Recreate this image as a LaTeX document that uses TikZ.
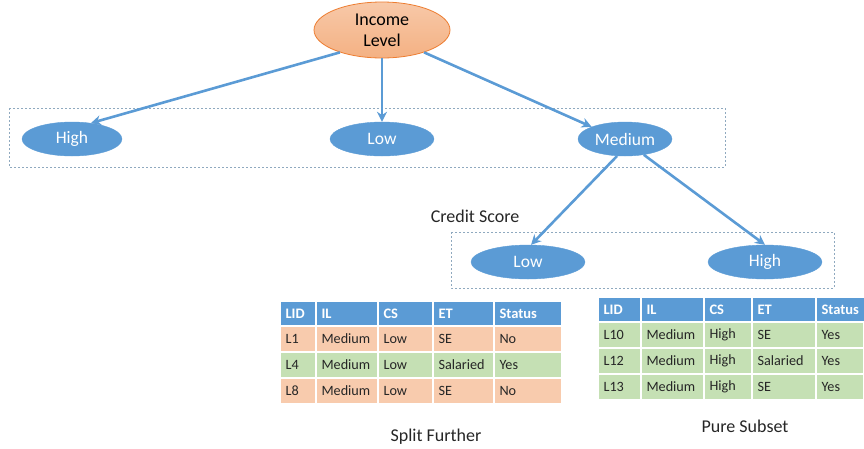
\documentclass[tikz,border=0pt]{standalone}
\usepackage{fontspec}
\setmainfont{Carlito}
\usetikzlibrary{arrows.meta,shapes.geometric}
\definecolor{obl}{HTML}{5B9BD5}
\definecolor{oor}{HTML}{F4B183}
\definecolor{oorb}{HTML}{ED7D31}
\definecolor{rowor}{HTML}{F8CBAD}
\definecolor{rowgr}{HTML}{C5E0B4}
\definecolor{dashc}{HTML}{8FA9BF}
\tikzset{
  bnode/.style={ellipse,fill=obl,draw=obl,text=white,minimum height=34pt,inner sep=0pt,font=\fontsize{17.5}{20}\selectfont},
  conn/.style={draw=obl,line width=2.6pt,-{Stealth[length=10pt,width=10pt]}},
  grp/.style={draw=dashc,line width=0.7pt,dash pattern=on 2pt off 2pt},
  hcell/.style={fill=obl,draw=white,line width=1.5pt},
  ocell/.style={fill=rowor,draw=white,line width=1.5pt},
  gcell/.style={fill=rowgr,draw=white,line width=1.5pt},
  htxt/.style={anchor=west,text=white,font=\fontsize{14.5}{16}\selectfont\bfseries},
  ctxt/.style={anchor=west,text=black!85,font=\fontsize{14.2}{16}\selectfont},
  lbl/.style={font=\fontsize{18}{20}\selectfont,text=black!85}
}
\begin{document}
\begin{tikzpicture}[x=1pt,y=-1pt]
\useasboundingbox (0,0) rectangle (864,448);
% groups
\draw[grp] (9,108) rectangle (725,167);
\draw[grp] (451,232) rectangle (834,288);
% nodes
\node[ellipse,shading=axis,top color=oor!70,bottom color=oor,draw=oorb,line width=0.8pt,minimum width=136pt,minimum height=56pt,inner sep=0pt,align=center,font=\fontsize{18}{21}\selectfont] (inc) at (382,30) {Income\\Level};
\node[bnode,minimum width=100pt] (high) at (72,139) {High};
\node[bnode,minimum width=104pt] (low) at (382,139) {Low};
\node[bnode,minimum width=94pt] (med) at (625,139) {Medium};
\node[bnode,minimum width=114pt] (low2) at (528,262) {Low};
\node[bnode,minimum width=114pt] (high2) at (765,262) {High};
\node[lbl] (cs) at (475,216) {Credit Score};
% connectors
\draw[conn] (inc.208) -- (high.40);
\draw[conn] (inc.south) -- (low.north);
\draw[conn] (inc.-28) -- (med.north west);
\draw[conn] (med.-115) -- (low2.80);
\draw[conn] (med.-40) -- (high2.north);
% table 1
\foreach \x/\w/\t [count=\i] in {280/36/LID,316/62/IL,378/55/CS,433/61/ET,494/68/Status}{
  \draw[hcell] (\x,301) rectangle ++(\w,25);
  \node[htxt] (ta-h\i) at (\x+2,313.5) {\t};
}
\foreach \r/\st/\a/\b/\c/\d/\e in {0/ocell/L1/Medium/Low/SE/No,1/gcell/L4/Medium/Low/Salaried/Yes,2/ocell/L8/Medium/Low/SE/No}{
  \draw[\st] (280,326+26*\r) rectangle (316,352+26*\r);
  \draw[\st] (316,326+26*\r) rectangle (378,352+26*\r);
  \draw[\st] (378,326+26*\r) rectangle (433,352+26*\r);
  \draw[\st] (433,326+26*\r) rectangle (494,352+26*\r);
  \draw[\st] (494,326+26*\r) rectangle (562,352+26*\r);
  \node[ctxt] (ta-\r-1) at (282,339+26*\r) {\a};
  \node[ctxt] (ta-\r-2) at (318,339+26*\r) {\b};
  \node[ctxt] (ta-\r-3) at (380,339+26*\r) {\c};
  \node[ctxt] (ta-\r-4) at (435,339+26*\r) {\d};
  \node[ctxt] (ta-\r-5) at (496,339+26*\r) {\e};
}
% table 2
\foreach \x/\w/\t [count=\i] in {598/43/LID,641/63/IL,704/48/CS,752/64/ET,816/50/Status}{
  \draw[hcell] (\x,297) rectangle ++(\w,25);
  \node[htxt] (tb-h\i) at (\x+2,309.5) {\t};
}
\foreach \r/\a/\b/\c/\d/\e in {0/L10/Medium/High/SE/Yes,1/L12/Medium/High/Salaried/Yes,2/L13/Medium/High/SE/Yes}{
  \draw[gcell] (598,322+26*\r) rectangle (641,348+26*\r);
  \draw[gcell] (641,322+26*\r) rectangle (704,348+26*\r);
  \draw[gcell] (704,322+26*\r) rectangle (752,348+26*\r);
  \draw[gcell] (752,322+26*\r) rectangle (816,348+26*\r);
  \draw[gcell] (816,322+26*\r) rectangle (864,348+26*\r);
  \node[ctxt] (tb-\r-1) at (600,335+26*\r) {\a};
  \node[ctxt] (tb-\r-2) at (643,335+26*\r) {\b};
  \node[ctxt] (tb-\r-3) at (706,335+26*\r) {\c};
  \node[ctxt] (tb-\r-4) at (754,335+26*\r) {\d};
  \node[ctxt] (tb-\r-5) at (818,335+26*\r) {\e};
}
\node[lbl] (split) at (436,437) {Split Further};
\node[lbl] (pure) at (745,426) {Pure Subset};
\end{tikzpicture}
\end{document}
